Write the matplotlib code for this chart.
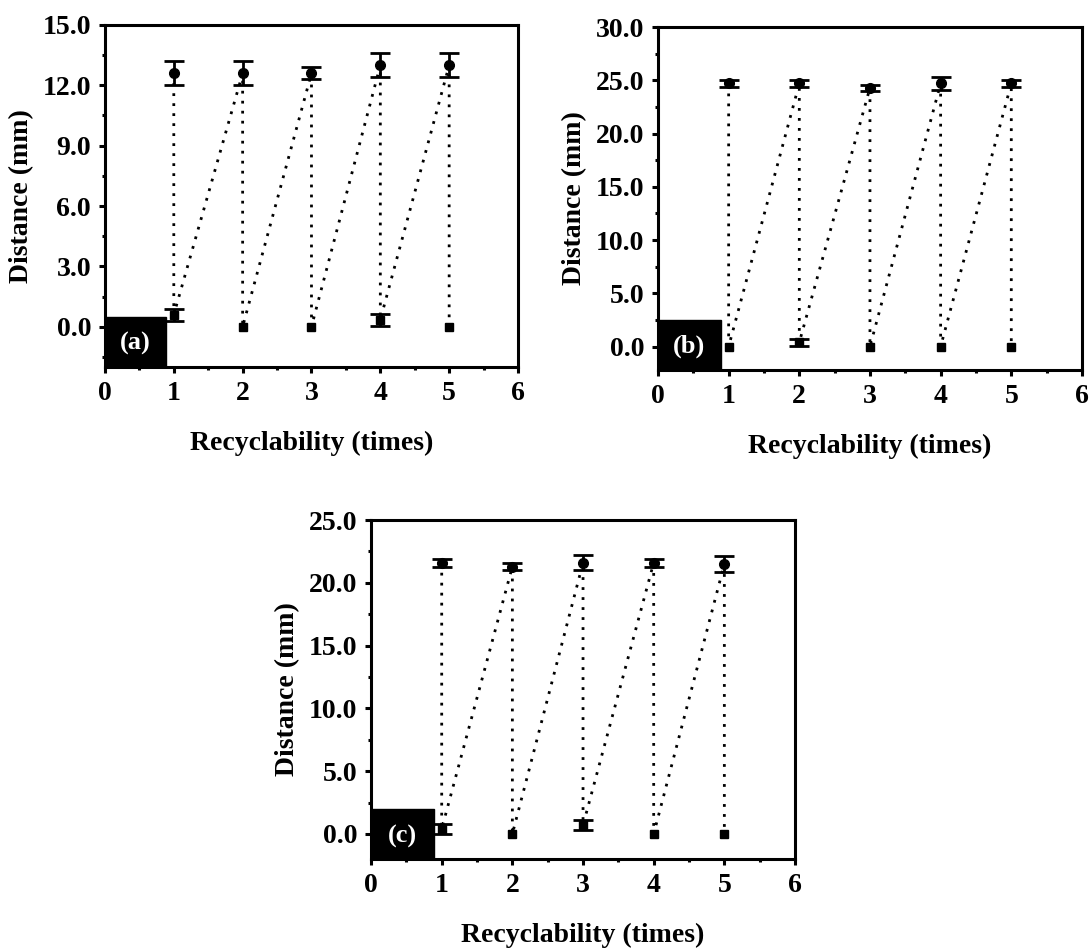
import matplotlib
matplotlib.use("Agg")
import matplotlib.pyplot as plt
from matplotlib.patches import Rectangle
from matplotlib.ticker import MultipleLocator, FormatStrFormatter

plt.rcParams['font.family'] = ['Liberation Serif', 'DejaVu Serif']
plt.rcParams['font.weight'] = 'bold'

cycles = [1, 2, 3, 4, 5]

# panel (a)
a_high = [12.6, 12.6, 12.6, 13.0, 13.0]
a_high_err = [0.6, 0.6, 0.3, 0.6, 0.6]
a_low = [0.6, 0.0, 0.0, 0.35, 0.0]
a_low_err = [0.3, 0.0, 0.0, 0.3, 0.0]

# panel (b)
b_high = [24.7, 24.7, 24.3, 24.7, 24.7]
b_high_err = [0.3, 0.3, 0.3, 0.65, 0.3]
b_low = [0.0, 0.4, 0.0, 0.0, 0.0]
b_low_err = [0.0, 0.35, 0.0, 0.0, 0.0]

# panel (c)
c_high = [21.6, 21.3, 21.6, 21.6, 21.5]
c_high_err = [0.3, 0.3, 0.6, 0.3, 0.6]
c_low = [0.4, 0.0, 0.7, 0.0, 0.0]
c_low_err = [0.4, 0.0, 0.4, 0.0, 0.0]


def draw_points(ax, xs, ys, errs, marker, ms):
    ax.plot(xs, ys, linestyle='none', marker=marker, ms=ms, color='black', zorder=3)
    # only points with a measured spread get error bars
    ex = [x for x, e in zip(xs, errs) if e > 0]
    ey = [y for y, e in zip(ys, errs) if e > 0]
    ee = [e for e in errs if e > 0]
    if ex:
        ax.errorbar(ex, ey, yerr=ee, fmt='none', ecolor='black',
                    elinewidth=2, capsize=7, capthick=2, zorder=3)


def draw_panel(ax, high, high_err, low, low_err, ylim, ystep, tag):
    # zig-zag path: high -> low at same cycle, then low -> next high
    xs, ys = [], []
    for x, h, l in zip(cycles, high, low):
        xs += [x, x]
        ys += [h, l]
    ax.plot(xs, ys, color='black', lw=2, linestyle=(0, (1, 2.6)), zorder=2)

    draw_points(ax, cycles, high, high_err, 'o', 7)
    draw_points(ax, cycles, low, low_err, 's', 6)

    ax.set_xlim(0, 6)
    ax.set_ylim(*ylim)
    ax.xaxis.set_major_locator(MultipleLocator(1))
    ax.xaxis.set_minor_locator(MultipleLocator(0.5))
    ax.yaxis.set_major_locator(MultipleLocator(ystep))
    ax.yaxis.set_minor_locator(MultipleLocator(ystep / 2))
    ax.yaxis.set_major_formatter(FormatStrFormatter('%.1f'))

    for s in ax.spines.values():
        s.set_linewidth(2.2)
    ax.tick_params(which='major', direction='out', length=4, width=2.2,
                   labelsize=20, pad=6)
    ax.tick_params(which='minor', direction='out', length=2.5, width=2.2)
    for lab in ax.get_xticklabels() + ax.get_yticklabels():
        lab.set_fontweight('bold')

    ax.set_xlabel('Recyclability (times)', fontsize=20, fontweight='bold', labelpad=18)
    ax.set_ylabel('Distance (mm)', fontsize=20, fontweight='bold', labelpad=6)

    ax.add_patch(Rectangle((0, 0), 0.148, 0.147, transform=ax.transAxes,
                           facecolor='black', edgecolor='black', clip_on=False, zorder=5))
    ax.text(0.074, 0.068, tag, transform=ax.transAxes, color='white',
            fontsize=19, fontweight='bold', ha='center', va='center', zorder=6)


fig = plt.figure(figsize=(10.91, 9.49), dpi=100)
ax_a = fig.add_axes([0.0962, 0.6133, 0.3786, 0.3604])
ax_b = fig.add_axes([0.6031, 0.6101, 0.3886, 0.3614])
ax_c = fig.add_axes([0.3401, 0.0948, 0.3886, 0.3572])

draw_panel(ax_a, a_high, a_high_err, a_low, a_low_err, (-2, 15), 3, '(a)')
draw_panel(ax_b, b_high, b_high_err, b_low, b_low_err, (-2.2, 30), 5, '(b)')
draw_panel(ax_c, c_high, c_high_err, c_low, c_low_err, (-2, 25), 5, '(c)')

fig.savefig('out.png', dpi=100)
